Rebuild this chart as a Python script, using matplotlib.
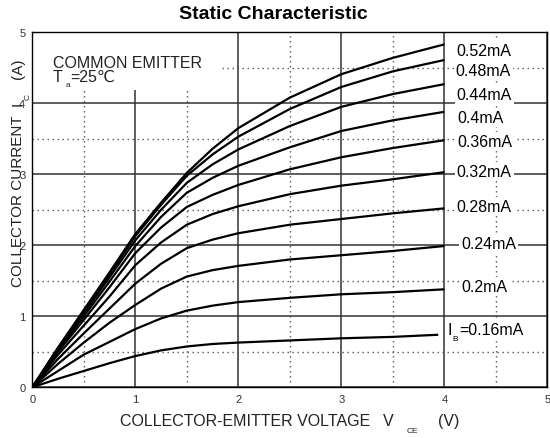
import numpy as np
import matplotlib
matplotlib.use("Agg")
import matplotlib.pyplot as plt
from matplotlib.patches import Rectangle

plt.rcParams['font.family'] = ['Liberation Sans', 'DejaVu Sans']

# collector-emitter voltage (V)
vce = [0, 0.25, 0.5, 0.75, 1.0, 1.25, 1.5, 1.75, 2.0, 2.5, 3.0, 3.5, 4.0]

# collector current (A) for each base current
ic_016 = [0, 0.12, 0.23, 0.34, 0.44, 0.52, 0.575, 0.61, 0.63, 0.66, 0.69, 0.71, 0.74]
ic_020 = [0, 0.23, 0.46, 0.64, 0.82, 0.97, 1.08, 1.15, 1.20, 1.26, 1.31, 1.34, 1.38]
ic_024 = [0, 0.33, 0.63, 0.91, 1.16, 1.39, 1.56, 1.65, 1.71, 1.80, 1.86, 1.92, 1.99]
ic_028 = [0, 0.40, 0.76, 1.11, 1.46, 1.74, 1.96, 2.08, 2.17, 2.29, 2.37, 2.45, 2.52]
ic_032 = [0, 0.46, 0.87, 1.28, 1.72, 2.04, 2.29, 2.44, 2.55, 2.72, 2.84, 2.93, 3.03]
ic_036 = [0, 0.50, 0.95, 1.41, 1.89, 2.25, 2.54, 2.71, 2.85, 3.07, 3.24, 3.37, 3.48]
ic_040 = [0, 0.52, 1.00, 1.49, 1.99, 2.40, 2.74, 2.95, 3.12, 3.38, 3.61, 3.76, 3.88]
ic_044 = [0, 0.54, 1.04, 1.55, 2.07, 2.50, 2.88, 3.14, 3.35, 3.68, 3.95, 4.13, 4.27]
ic_048 = [0, 0.55, 1.07, 1.59, 2.13, 2.57, 2.98, 3.28, 3.53, 3.92, 4.23, 4.45, 4.61]
ic_052 = [0, 0.56, 1.09, 1.62, 2.16, 2.60, 3.02, 3.36, 3.65, 4.08, 4.41, 4.64, 4.83]

curves = [ic_016, ic_020, ic_024, ic_028, ic_032, ic_036, ic_040, ic_044, ic_048, ic_052]
labels = ["=0.16mA", "0.2mA", "0.24mA", "0.28mA", "0.32mA", "0.36mA",
          "0.4mA", "0.44mA", "0.48mA", "0.52mA"]
# label anchor points (x, y)
lab_x = [4.03, 4.16, 4.16, 4.12, 4.12, 4.13, 4.13, 4.12, 4.11, 4.12]
lab_y = [0.81, 1.42, 2.03, 2.55, 3.04, 3.46, 3.80, 4.12, 4.46, 4.75]

fig = plt.figure(figsize=(5.5, 4.39), dpi=100)
ax = fig.add_axes([0.0587, 0.1155, 0.9367, 0.8087])

for ic in curves:
    x = vce[:len(ic)]
    if ic is ic_016:
        x = list(vce[:-1]) + [3.94]  # lowest curve stops short of 4 V
    ax.plot(x, ic, color='black', lw=1.6, zorder=3, solid_capstyle='butt')

for i, (t, lx, ly) in enumerate(zip(labels, lab_x, lab_y)):
    if i == 0:
        ax.text(lx, ly, "I", fontsize=11.5, va='center', ha='left', zorder=5,
                bbox=dict(fc='white', ec='none', pad=1))
        ax.text(lx + 0.05, ly - 0.12, "B", fontsize=6, va='center', ha='left', zorder=5)
        ax.text(lx + 0.115, ly, t, fontsize=11.5, va='center', ha='left', zorder=5,
                bbox=dict(fc='white', ec='none', pad=1))
    else:
        ax.text(lx, ly, t, fontsize=11.5, va='center', ha='left', zorder=5,
                bbox=dict(fc='white', ec='none', pad=1.5))

ax.set_xlim(0, 5)
ax.set_ylim(0, 5)
ax.set_xticks(range(6))
ax.set_yticks(range(6))
ax.set_xticks(np.arange(0.5, 5, 1), minor=True)
ax.set_yticks(np.arange(0.5, 5, 1), minor=True)
ax.tick_params(which='both', length=0)
ax.tick_params(axis='x', pad=5, labelsize=8, labelcolor='#333333')
ax.tick_params(axis='y', pad=5, labelsize=8, labelcolor='#333333')
ax.grid(which='major', color='#333333', lw=1.1)
ax.grid(which='minor', color='#555555', lw=1.0, linestyle=(0, (1, 2.6)))
for s in ax.spines.values():
    s.set_linewidth(1.0)
    s.set_color('black')

# white box behind the condition text
ax.add_patch(Rectangle((0, 4.18), 1.82, 0.82, facecolor='white', edgecolor='none', zorder=1.8))
ax.text(0.2, 4.58, "COMMON EMITTER", fontsize=11.5, va='center', ha='left', color='#222222', zorder=4)
ax.text(0.2, 4.38, "T", fontsize=11.5, va='center', ha='left', color='#222222', zorder=4)
ax.text(0.32, 4.27, "a", fontsize=6, va='center', ha='left', color='#222222', zorder=4)
ax.text(0.37, 4.38, "=25\u2103", fontsize=11.5, va='center', ha='left', color='#222222', zorder=4)

fig.text(0.497, 0.966, "Static Characteristic", fontsize=14, fontweight='bold',
         ha='center', va='center')

# x axis label
fig.text(120 / 550, 1 - 421.7 / 439, "COLLECTOR-EMITTER VOLTAGE", fontsize=11.5,
         ha='left', va='center', color='#222222')
fig.text(383 / 550, 1 - 421.7 / 439, "V", fontsize=11.5, ha='left', va='center', color='#222222')
fig.text(407 / 550, 1 - 432 / 439, "CE", fontsize=6, ha='left', va='center', color='#222222')
fig.text(438 / 550, 1 - 421.7 / 439, "(V)", fontsize=11.5, ha='left', va='center', color='#222222')

# y axis label
fig.text(18 / 550, 1 - 201.5 / 439, "COLLECTOR CURRENT", fontsize=11, rotation=90,
         ha='center', va='center', color='#222222')
fig.text(18 / 550, 1 - 104 / 439, "I", fontsize=11, rotation=90,
         ha='center', va='center', color='#222222')
fig.text(28 / 550, 1 - 97 / 439, "C", fontsize=6, rotation=90,
         ha='center', va='center', color='#222222')
fig.text(18 / 550, 1 - 68.5 / 439, "(A)", fontsize=11, rotation=90,
         ha='center', va='center', color='#222222')

fig.savefig("out.png", dpi=100)
